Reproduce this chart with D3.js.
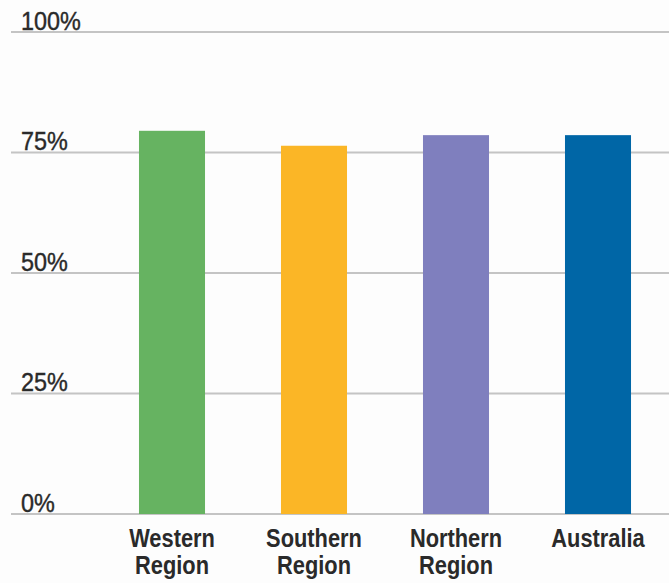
<!DOCTYPE html>
<html>
<head>
<meta charset="utf-8">
<script src="https://cdn.jsdelivr.net/npm/d3@7"></script>
<style>
  html, body { margin: 0; padding: 0; background: #fdfdfd; }
  svg { display: block; }
</style>
</head>
<body>
<div id="chart"></div>
<script>
// Share of respondents by region
const categories = ["Western Region", "Southern Region", "Northern Region", "Australia"];
const values = [79.5, 76.4, 78.6, 78.6];
const colors = ["#66b361", "#fbb626", "#7f7fbe", "#0066a6"];
const tickValues = [0, 25, 50, 75, 100];
const tickLabels = ["0%", "25%", "50%", "75%", "100%"];

const width = 669, height = 583;

const svg = d3.select("#chart").append("svg")
  .attr("width", width)
  .attr("height", height);

const y = d3.scaleLinear().domain([0, 100]).range([514, 32]);
const x = d3.scaleBand()
  .domain(categories)
  .range([101, 669])
  .paddingInner(0.535)
  .paddingOuter(0.2675);

// Gridlines with labels sitting on top of each line
const grid = svg.append("g");
grid.selectAll("line")
  .data(tickValues)
  .join("line")
  .attr("x1", 11).attr("x2", width)
  .attr("y1", d => y(d)).attr("y2", d => y(d))
  .attr("stroke", "#c4c4c4")
  .attr("stroke-width", 2);

grid.selectAll("text")
  .data(tickValues)
  .join("text")
  .attr("transform", d => `translate(21,${y(d) - 2.5}) scale(0.9,1)`)
  .attr("font-family", "'Liberation Sans', Arial, sans-serif")
  .attr("font-size", 26)
  .attr("fill", "#2a2a2a")
  .attr("stroke", "#2a2a2a")
  .attr("stroke-width", 0.4)
  .text((d, i) => tickLabels[i]);

// Bars
svg.append("g").selectAll("rect")
  .data(values)
  .join("rect")
  .attr("x", (d, i) => x(categories[i]))
  .attr("width", x.bandwidth())
  .attr("y", d => y(d))
  .attr("height", d => y(0) - y(d))
  .attr("fill", (d, i) => colors[i]);

// Category labels, condensed and split onto two lines
const labels = svg.append("g").selectAll("text")
  .data(categories)
  .join("text")
  .attr("transform", d => `translate(${x(d) + x.bandwidth() / 2},547) scale(0.84,1)`)
  .attr("text-anchor", "middle")
  .attr("font-family", "'Liberation Sans', Arial, sans-serif")
  .attr("font-weight", "bold")
  .attr("font-size", 26)
  .attr("fill", "#2a2a2a");

labels.each(function(d) {
  const words = d.split(" ");
  const t = d3.select(this);
  words.forEach((w, i) => {
    t.append("tspan")
      .attr("x", 0)
      .attr("dy", i === 0 ? 0 : 27)
      .text(w);
  });
});
</script>
</body>
</html>
